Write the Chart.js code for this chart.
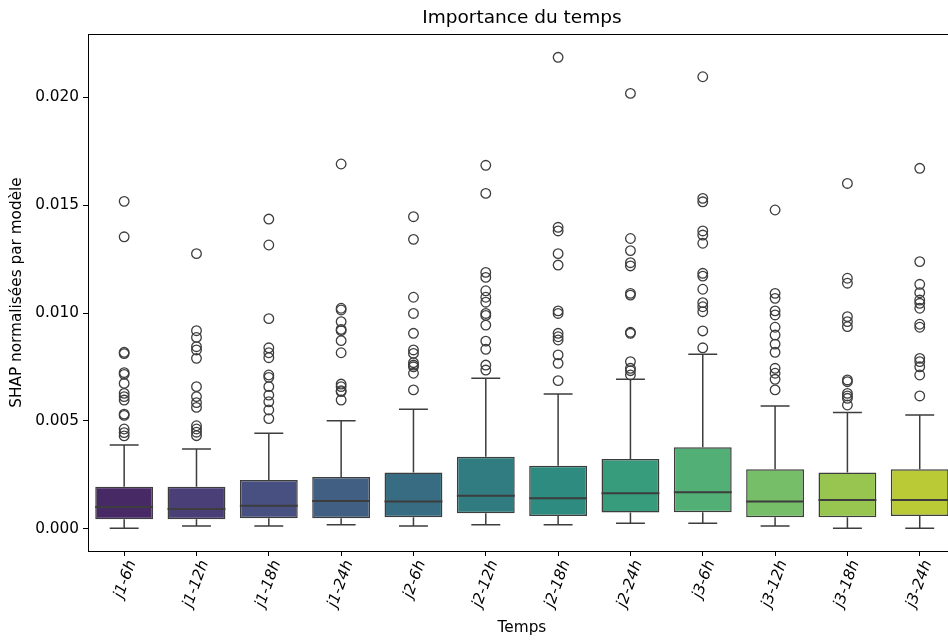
<!DOCTYPE html>
<html>
<head>
<meta charset="utf-8">
<script src="https://cdn.jsdelivr.net/npm/chart.js@4.4.1/dist/chart.umd.min.js"></script>
<style>
  html, body { margin: 0; padding: 0; background: #fff; overflow: hidden; width: 948px; height: 640px; }
  #wrap { position: relative; width: 962px; height: 640px; }
</style>
</head>
<body>
<div id="wrap"><canvas id="c"></canvas></div>
<script>
// Time slots (day - hour horizon)
const categories = ['j1-6h','j1-12h','j1-18h','j1-24h','j2-6h','j2-12h','j2-18h','j2-24h','j3-6h','j3-12h','j3-18h','j3-24h'];

// Box statistics per slot
const q1 =      [0.00045, 0.00045, 0.00050, 0.00050, 0.00054, 0.00073, 0.00060, 0.00076, 0.00077, 0.00054, 0.00054, 0.00060];
const medians = [0.00102, 0.00093, 0.00108, 0.00130, 0.00127, 0.00154, 0.00142, 0.00165, 0.00170, 0.00127, 0.00134, 0.00134];
const q3 =      [0.00196, 0.00196, 0.00227, 0.00241, 0.00262, 0.00335, 0.00293, 0.00324, 0.00378, 0.00276, 0.00262, 0.00276];
const whiskerLow  = [0.00003, 0.00014, 0.00014, 0.00019, 0.00014, 0.00019, 0.00019, 0.00026, 0.00026, 0.00014, 0.00003, 0.00003];
const whiskerHigh = [0.00389, 0.00370, 0.00443, 0.00501, 0.00554, 0.00698, 0.00625, 0.00693, 0.00809, 0.00569, 0.00539, 0.00528];

// Outliers per slot
const outliers = [
  [0.01517, 0.01353, 0.00818, 0.00812, 0.00724, 0.00716, 0.00674, 0.00628, 0.00613, 0.00597, 0.00532, 0.00526, 0.00463, 0.00446, 0.00431],
  [0.01275, 0.00918, 0.00887, 0.00844, 0.00829, 0.00790, 0.00659, 0.00613, 0.00585, 0.00563, 0.00478, 0.00463, 0.00448, 0.00432],
  [0.01435, 0.01315, 0.00974, 0.00839, 0.00816, 0.00793, 0.00713, 0.00702, 0.00659, 0.00620, 0.00589, 0.00551, 0.00511],
  [0.01690, 0.01022, 0.01014, 0.00960, 0.00924, 0.00918, 0.00872, 0.00816, 0.00671, 0.00659, 0.00640, 0.00636, 0.00597],
  [0.01446, 0.01341, 0.01073, 0.00998, 0.00906, 0.00829, 0.00813, 0.00770, 0.00759, 0.00751, 0.00721, 0.00644],
  [0.01684, 0.01554, 0.01188, 0.01165, 0.01103, 0.01073, 0.01050, 0.00998, 0.00989, 0.00944, 0.00870, 0.00832, 0.00759, 0.00736],
  [0.02184, 0.01397, 0.01380, 0.01275, 0.01222, 0.01010, 0.00998, 0.00906, 0.00890, 0.00875, 0.00806, 0.00767, 0.00687],
  [0.02017, 0.01345, 0.01289, 0.01233, 0.01218, 0.01091, 0.01083, 0.00911, 0.00906, 0.00775, 0.00744, 0.00733, 0.00713],
  [0.02094, 0.01531, 0.01515, 0.01380, 0.01361, 0.01323, 0.01184, 0.01171, 0.01110, 0.01048, 0.01029, 0.01006, 0.00917, 0.00839],
  [0.01477, 0.01091, 0.01068, 0.01010, 0.00991, 0.00934, 0.00898, 0.00856, 0.00818, 0.00744, 0.00721, 0.00693, 0.00644],
  [0.01600, 0.01161, 0.01138, 0.00983, 0.00960, 0.00937, 0.00690, 0.00682, 0.00628, 0.00616, 0.00605, 0.00574],
  [0.01670, 0.01238, 0.01133, 0.01094, 0.01060, 0.01045, 0.01022, 0.00948, 0.00934, 0.00790, 0.00775, 0.00751, 0.00713, 0.00616]
];

const yTicks = [0, 0.005, 0.010, 0.015, 0.020];
const chartTitle = 'Importance du temps';

// Viridis samples, softened like a box-plot palette
const viridis = ['#471f70','#453581','#3e4a89','#355e8d','#2c718e','#24878e','#1f9a8a','#26ad81','#42be71','#6ccd5a','#9bd93c','#cde11d'];
function desaturate(hex, f) {
  let r = parseInt(hex.slice(1,3),16)/255, g = parseInt(hex.slice(3,5),16)/255, b = parseInt(hex.slice(5,7),16)/255;
  const mx = Math.max(r,g,b), mn = Math.min(r,g,b), c = mx-mn;
  if (c === 0) return hex;
  const nc = c * f, mid = (mx+mn)/2;
  const conv = v => Math.round((mid - nc/2 + (v - mn) / c * nc) * 255);
  return 'rgb(' + conv(r) + ',' + conv(g) + ',' + conv(b) + ')';
}
const boxColors = viridis.map(h => desaturate(h, 0.75));
const lineColor = '#3d3d3d';
const FONT = 'DejaVu Sans';
const FS = 15.3;

const outlierPoints = [];
outliers.forEach((arr, i) => arr.forEach(v => outlierPoints.push({ x: categories[i], y: v })));

// Whiskers, caps and medians drawn with the chart's own scales
const boxExtras = {
  id: 'boxExtras',
  beforeDatasetsDraw(chart) {
    const { ctx, scales: { x, y } } = chart;
    const meta = chart.getDatasetMeta(0);
    ctx.save();
    ctx.strokeStyle = lineColor;
    ctx.lineWidth = 1.5;
    categories.forEach((c, i) => {
      const cx = x.getPixelForValue(i);
      const cap = meta.data[i].width / 2;
      const yHi = y.getPixelForValue(whiskerHigh[i]), yQ3 = y.getPixelForValue(q3[i]);
      const yLo = y.getPixelForValue(whiskerLow[i]), yQ1 = y.getPixelForValue(q1[i]);
      ctx.beginPath();
      ctx.moveTo(cx, yQ3); ctx.lineTo(cx, yHi);
      ctx.moveTo(cx - cap/2, yHi); ctx.lineTo(cx + cap/2, yHi);
      ctx.moveTo(cx, yQ1); ctx.lineTo(cx, yLo);
      ctx.moveTo(cx - cap/2, yLo); ctx.lineTo(cx + cap/2, yLo);
      ctx.stroke();
    });
    ctx.restore();
  },
  afterDatasetsDraw(chart) {
    const { ctx, scales: { x, y } } = chart;
    const meta = chart.getDatasetMeta(0);
    ctx.save();
    ctx.strokeStyle = lineColor;
    ctx.lineWidth = 2;
    categories.forEach((c, i) => {
      const cx = x.getPixelForValue(i);
      const bw = meta.data[i].width;
      const ym = y.getPixelForValue(medians[i]);
      ctx.beginPath();
      ctx.moveTo(cx - bw/2, ym); ctx.lineTo(cx + bw/2, ym);
      ctx.stroke();
    });
    ctx.restore();
  },
  afterDraw(chart) {
    const { ctx, chartArea: a } = chart;
    ctx.save();
    // axes frame
    ctx.strokeStyle = '#000';
    ctx.lineWidth = 1;
    ctx.strokeRect(a.left + 0.5, a.top + 0.5, a.right - a.left, a.bottom - a.top);
    // title centred over the plotting area
    ctx.fillStyle = '#000';
    ctx.font = '18.5px "' + FONT + '"';
    ctx.textAlign = 'center';
    ctx.textBaseline = 'middle';
    ctx.fillText(chartTitle, (a.left + a.right) / 2, a.top - 16);
    ctx.restore();
  }
};

new Chart(document.getElementById('c'), {
  type: 'bar',
  data: {
    labels: categories,
    datasets: [
      {
        type: 'bar',
        data: categories.map((c, i) => [q1[i], q3[i]]),
        backgroundColor: boxColors,
        borderColor: lineColor,
        borderWidth: 1.5,
        borderSkipped: false,
        barPercentage: 0.8,
        categoryPercentage: 1.0,
        order: 2
      },
      {
        type: 'scatter',
        data: outlierPoints,
        pointStyle: 'circle',
        pointRadius: 4.8,
        pointBorderWidth: 1.3,
        pointBackgroundColor: 'rgba(0,0,0,0)',
        pointBorderColor: lineColor,
        order: 1
      }
    ]
  },
  options: {
    responsive: true,
    maintainAspectRatio: false,
    animation: false,
    events: [],
    layout: { padding: { left: 0, right: 4, top: 34, bottom: 0 } },
    plugins: {
      legend: { display: false },
      tooltip: { enabled: false },
      title: { display: false }
    },
    scales: {
      x: {
        type: 'category',
        offset: true,
        grid: { display: true, drawOnChartArea: false, drawTicks: true, tickLength: 5, color: '#000', offset: false },
        border: { display: true, color: '#000' },
        ticks: {
          color: '#000',
          autoSkip: false,
          minRotation: 70,
          maxRotation: 70,
          labelOffset: 8,
          padding: 2,
          font: { family: FONT, size: FS, style: 'italic' }
        },
        title: {
          display: true,
          text: 'Temps',
          color: '#000',
          font: { family: FONT, size: FS },
          padding: { top: 0, bottom: 3 }
        },
        afterFit(scale) { scale.height = 89; }
      },
      y: {
        type: 'linear',
        min: -0.00102,
        max: 0.02292,
        grid: { display: true, drawOnChartArea: false, drawTicks: true, tickLength: 5, color: '#000' },
        border: { display: true, color: '#000' },
        ticks: {
          color: '#000',
          padding: 4,
          font: { family: FONT, size: FS },
          callback: v => Number(v).toFixed(3)
        },
        afterBuildTicks(scale) { scale.ticks = yTicks.map(v => ({ value: v })); },
        title: {
          display: true,
          text: 'SHAP normalisées par modèle',
          color: '#000',
          font: { family: FONT, size: FS },
          padding: { top: 8, bottom: 0 }
        },
        afterFit(scale) { scale.width = 88; }
      }
    }
  },
  plugins: [boxExtras]
});
</script>
</body>
</html>
